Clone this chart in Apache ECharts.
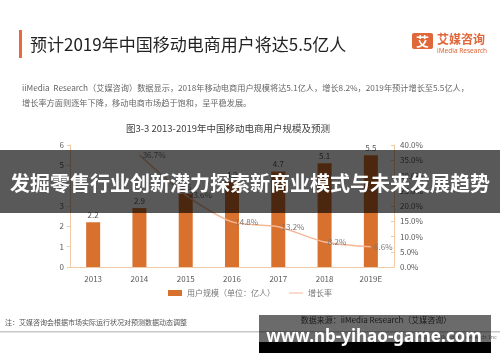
<!DOCTYPE html>
<html><head><meta charset="utf-8">
<script src="https://cdn.jsdelivr.net/npm/echarts@6/dist/echarts.min.js"></script>
<style>html,body{margin:0;padding:0;background:#fff;}#c{width:500px;height:362px;}</style>
</head><body><div id="c"></div>
<script>
var categories = ['2013','2014','2015','2016','2017','2018','2019E'];
var userScale = [2.2, 2.9, 3.6, 4.2, 4.7, 5.1, 5.5];
var growthRate = [null, 36.7, 23.6, 14.8, 13.2, 8.2, 6.6];
var leftTicks = {min: 0, max: 6, interval: 1};
var rightTicks = {min: 0, max: 40, interval: 5};

var CJK = '"Noto Sans CJK SC", "Noto Sans", sans-serif';
var chart = echarts.init(document.getElementById('c'), null, {renderer: 'canvas'});
var option = {
  backgroundColor: '#fff',
  animation: false,
  textStyle: {fontFamily: CJK},
  grid: {left: 70, right: 106, top: 145, bottom: 95},
  legend: {
    top: 284, left: 'center', itemGap: 14, itemWidth: 14, itemHeight: 6,
    textStyle: {fontSize: 8, color: '#777', fontFamily: CJK},
    data: [
      {name: '用户规模（单位：亿人）', icon: 'rect'},
      {name: '增长率', icon: 'path://M0,0 L20,0 L20,1.4 L0,1.4 Z', itemStyle: {color: '#f5b796', opacity: 1}}
    ]
  },
  xAxis: {
    type: 'category', data: categories,
    axisLine: {lineStyle: {color: '#f0c9a6', width: 1}},
    axisTick: {show: false},
    axisLabel: {fontSize: 8, color: '#595959', margin: 8}
  },
  yAxis: [
    {type: 'value', min: leftTicks.min, max: leftTicks.max, interval: leftTicks.interval,
     axisLine: {show: true, lineStyle: {color: '#f0c9a6'}},
     axisTick: {show: true, length: 3, lineStyle: {color: '#f0c9a6'}},
     splitLine: {show: false},
     axisLabel: {fontSize: 8, color: '#595959', margin: 6}},
    {type: 'value', min: rightTicks.min, max: rightTicks.max, interval: rightTicks.interval,
     position: 'right',
     axisLine: {show: true, lineStyle: {color: '#f0c9a6'}},
     axisTick: {show: true, inside: true, length: 3, lineStyle: {color: '#f0c9a6'}},
     splitLine: {show: false},
     axisLabel: {fontSize: 8, color: '#595959', margin: 6,
       formatter: function(v){ return v.toFixed(1) + '%'; }}}
  ],
  series: [
    {name: '用户规模（单位：亿人）', type: 'bar', data: userScale, barWidth: 14,
     itemStyle: {color: '#d8712d'},
     label: {show: true, position: 'top', fontSize: 8, color: '#595959', distance: 3}},
    {name: '增长率', type: 'line', yAxisIndex: 1, data: growthRate,
     showSymbol: true, symbol: 'circle', symbolSize: 0.5, smooth: 0.25,
     lineStyle: {color: '#f5b796', width: 1.5},
     itemStyle: {color: '#f5b796'},
     label: {show: true, position: 'right', fontSize: 8, color: '#777', distance: 3,
       formatter: function(p){ return p.value.toFixed(1) + '%'; }}}
  ],
  graphic: [
    {type: 'rect', shape: {x: 19, y: 30, width: 3, height: 28}, style: {fill: '#e8693a'}},
    {type: 'text', x: 30, y: 45, style: {text: '预计2019年中国移动电商用户将达5.5亿人', font: '17px ' + CJK, fill: '#222', textVerticalAlign: 'middle'}},
    {type: 'rect', shape: {x: 412, y: 33, width: 21, height: 16, r: 2}, style: {fill: '#e0673a'}},
    {type: 'text', x: 422.5, y: 41, style: {text: '艾', font: 'bold 13px ' + CJK, fill: '#fff', textAlign: 'center', textVerticalAlign: 'middle'}},
    {type: 'text', x: 437, y: 39, style: {text: '艾媒咨询', font: 'bold 12px ' + CJK, fill: '#e0673a', textVerticalAlign: 'middle'}},
    {type: 'text', x: 437, y: 51, style: {text: 'iMedia Research', font: '6.5px "Noto Sans", sans-serif', fill: '#e0673a', textVerticalAlign: 'middle'}},
    {type: 'text', x: 22, y: 88, style: {text: 'iiMedia  Research（艾媒咨询）数据显示，2018年移动电商用户规模将达5.1亿人，增长8.2%，2019年预计增长至5.5亿人，', font: '8.2px ' + CJK, fill: '#666', textVerticalAlign: 'middle'}},
    {type: 'text', x: 22, y: 103, style: {text: '增长率方面则逐年下降，移动电商市场趋于饱和，呈平稳发展。', font: '8.2px ' + CJK, fill: '#666', textVerticalAlign: 'middle'}},
    {type: 'text', x: 228, y: 128, style: {text: '图3-3 2013-2019年中国移动电商用户规模及预测', font: '9.5px ' + CJK, fill: '#404040', textAlign: 'center', textVerticalAlign: 'middle'}},
    {type: 'text', x: 5, y: 322, style: {text: '注：艾媒咨询会根据市场实际运行状况对预测数据动态调整', font: '7px ' + CJK, fill: '#555', textVerticalAlign: 'middle'}},
    {type: 'text', x: 376, y: 320, style: {text: '数据来源：iiMedia Research（艾媒咨询）', font: '8px ' + CJK, fill: '#444', textAlign: 'center', textVerticalAlign: 'middle'}},
    {type: 'rect', shape: {x: 0, y: 331, width: 500, height: 1.5}, style: {fill: '#c8c8c8'}},
    {type: 'text', x: 497, y: 337, style: {text: '©2019 iiMedia Research Inc', font: '6px "Noto Sans", sans-serif', fill: '#888', textAlign: 'right', textVerticalAlign: 'middle'}},
    {type: 'rect', z: 100, shape: {x: 0, y: 150, width: 500, height: 63}, style: {fill: 'rgba(0,0,0,0.65)'}},
    {type: 'text', z: 101, x: 250, y: 183, style: {text: '发掘零售行业创新潜力探索新商业模式与未来发展趋势', font: 'bold 20px ' + CJK, fill: '#fff', textAlign: 'center', textVerticalAlign: 'middle'}},
    {type: 'rect', z: 100, shape: {x: 259, y: 315, width: 232, height: 27}, style: {fill: 'rgba(0,0,0,0.58)'}},
    {type: 'rect', z: 100, shape: {x: 259, y: 342, width: 232, height: 11}, style: {fill: '#000'}},
    {type: 'text', z: 101, x: 374, y: 337, style: {text: 'www.nb-yihao-game.com', font: 'bold 17px "Noto Sans", sans-serif', fill: '#fff', textAlign: 'center', textVerticalAlign: 'middle'}}
  ]
};
chart.setOption(option);
</script></body></html>
